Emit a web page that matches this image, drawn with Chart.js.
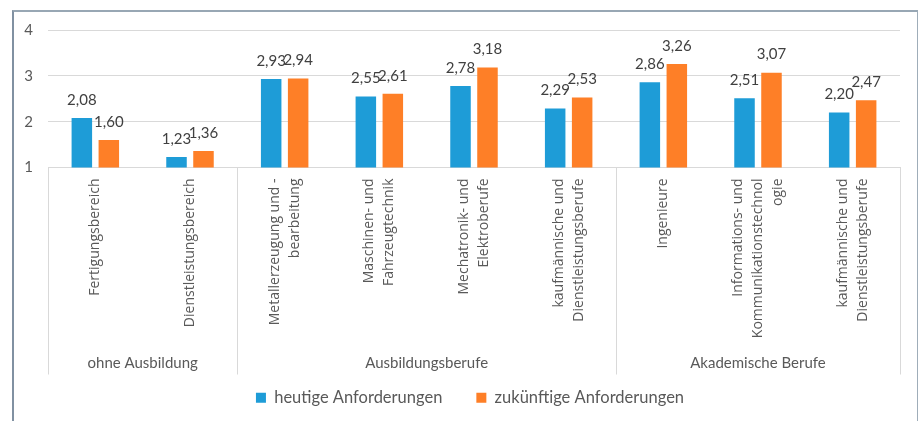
<!DOCTYPE html>
<html>
<head>
<meta charset="utf-8">
<script src="https://cdn.jsdelivr.net/npm/chart.js@4.4.1/dist/chart.umd.min.js"></script>
<style>
  html, body { margin: 0; padding: 0; background: #fff; }
  #rahmen {
    position: absolute; left: 12px; top: 10px; width: 906px; height: 420px;
    box-sizing: border-box;
    border-left: 2px solid #8191a2;
    border-top: 2px solid #98a7b4;
    border-right: 1px solid #9fadb9;
  }
  #chartAnforderungen { position: absolute; left: 0; top: 0; }
</style>
</head>
<body>
<div id="rahmen"></div>
<canvas id="chartAnforderungen" width="919" height="421"></canvas>
<script>
const kategorien = [
  "Fertigungsbereich",
  "Dienstleistungsbereich",
  ["Metallerzeugung und -", "bearbeitung"],
  ["Maschinen- und", "Fahrzeugtechnik"],
  ["Mechatronik- und", "Elektroberufe"],
  ["kaufmännische und", "Dienstleistungsberufe"],
  "Ingenieure",
  ["Informations- und", "Kommunikationstechnol", "ogie"],
  ["kaufmännische und", "Dienstleistungsberufe"]
];
const gruppen = ["ohne Ausbildung", "Ausbildungsberufe", "Akademische Berufe"];
const gruppenGroesse = [2, 4, 3];

const heute = [2.08, 1.23, 2.93, 2.55, 2.78, 2.29, 2.86, 2.51, 2.20];
const zukunft = [1.60, 1.36, 2.94, 2.61, 3.18, 2.53, 3.26, 3.07, 2.47];

const yMin = 1;
const yMax = 4;

const BLAU = "#1e9cd7";
const ORANGE = "#fe7f27";
const TEXT = "#595959";
const LINIE = "#d9d9d9";

// Werte über den Balken, deutsches Dezimalkomma
const wertBeschriftung = {
  id: "wertBeschriftung",
  afterDatasetsDraw(chart) {
    const ctx = chart.ctx;
    ctx.save();
    ctx.font = "15px Lato";
    ctx.fillStyle = "#404040";
    ctx.textAlign = "center";
    ctx.textBaseline = "middle";
    chart.data.datasets.forEach((ds, i) => {
      chart.getDatasetMeta(i).data.forEach((bar, j) => {
        ctx.fillText(ds.data[j].toFixed(2).replace(".", ","), bar.x, bar.y - 18);
      });
    });
    ctx.restore();
  }
};

// Kategorien senkrecht (mehrzeilig mittig), darunter Trennlinien und Gruppennamen
const gruppenAchse = {
  id: "gruppenAchse",
  afterDraw(chart) {
    const xAchse = chart.scales.x;
    const ctx = chart.ctx;
    const oben = chart.chartArea.bottom;
    const unten = oben + 207;
    ctx.save();

    // Kategorienamen, von unten nach oben gelesen
    ctx.font = "14px 'Open Sans'";
    ctx.fillStyle = TEXT;
    ctx.textAlign = "right";
    ctx.textBaseline = "middle";
    const zeilenAbstand = 20;
    kategorien.forEach((name, i) => {
      const zeilen = Array.isArray(name) ? name : [name];
      const mitte = xAchse.getPixelForValue(i);
      zeilen.forEach((zeile, z) => {
        const x = mitte + (z - (zeilen.length - 1) / 2) * zeilenAbstand;
        ctx.save();
        ctx.translate(x, oben + 11);
        ctx.rotate(-Math.PI / 2);
        ctx.fillText(zeile, 0, 0);
        ctx.restore();
      });
    });

    ctx.strokeStyle = LINIE;
    ctx.lineWidth = 1;
    ctx.font = "15px Lato";
    ctx.textAlign = "center";

    let start = -0.5;
    const linie = (px) => {
      ctx.beginPath();
      ctx.moveTo(Math.round(px) + 0.5, oben);
      ctx.lineTo(Math.round(px) + 0.5, unten);
      ctx.stroke();
    };
    linie(xAchse.getPixelForValue(start));
    gruppen.forEach((name, i) => {
      const ende = start + gruppenGroesse[i];
      const links = xAchse.getPixelForValue(start);
      const rechts = xAchse.getPixelForValue(ende);
      linie(rechts);
      ctx.fillText(name, (links + rechts) / 2, oben + 196);
      start = ende;
    });
    ctx.restore();
  }
};

// Legende mittig unter der Zeichenfläche statt unter der ganzen Grafik
const legendeVerschieben = {
  id: "legendeVerschieben",
  afterLayout(chart) {
    chart.legend.left = chart.chartArea.left - 8;
    chart.legend.right = chart.chartArea.right;
  }
};

const ctx = document.getElementById("chartAnforderungen").getContext("2d");

new Chart(ctx, {
  type: "bar",
  data: {
    labels: kategorien,
    datasets: [
      {
        label: "heutige Anforderungen",
        data: heute,
        backgroundColor: BLAU,
        categoryPercentage: 0.57,
        barPercentage: 0.76
      },
      {
        label: "zukünftige Anforderungen",
        data: zukunft,
        backgroundColor: ORANGE,
        categoryPercentage: 0.57,
        barPercentage: 0.76
      }
    ]
  },
  options: {
    responsive: false,
    animation: false,
    layout: {
      padding: { top: 30, left: 0, right: 19, bottom: 5 }
    },
    plugins: {
      legend: {
        position: "bottom",
        labels: {
          font: { family: "Lato", size: 16.5 },
          color: TEXT,
          boxWidth: 10,
          boxHeight: 10,
          padding: 34
        }
      },
      tooltip: { enabled: false }
    },
    scales: {
      x: {
        grid: { display: false },
        border: { display: true, color: LINIE, width: 1 },
        ticks: { display: false },
        afterFit(scale) {
          scale.height = 188;
        }
      },
      y: {
        min: yMin,
        max: yMax,
        ticks: {
          stepSize: 1,
          font: { family: "Lato", size: 15 },
          color: TEXT,
          padding: 15
        },
        grid: { color: LINIE, drawTicks: false },
        border: { display: false },
        afterFit(scale) {
          scale.width = 48;
        }
      }
    }
  },
  plugins: [wertBeschriftung, gruppenAchse, legendeVerschieben]
});
</script>
</body>
</html>
